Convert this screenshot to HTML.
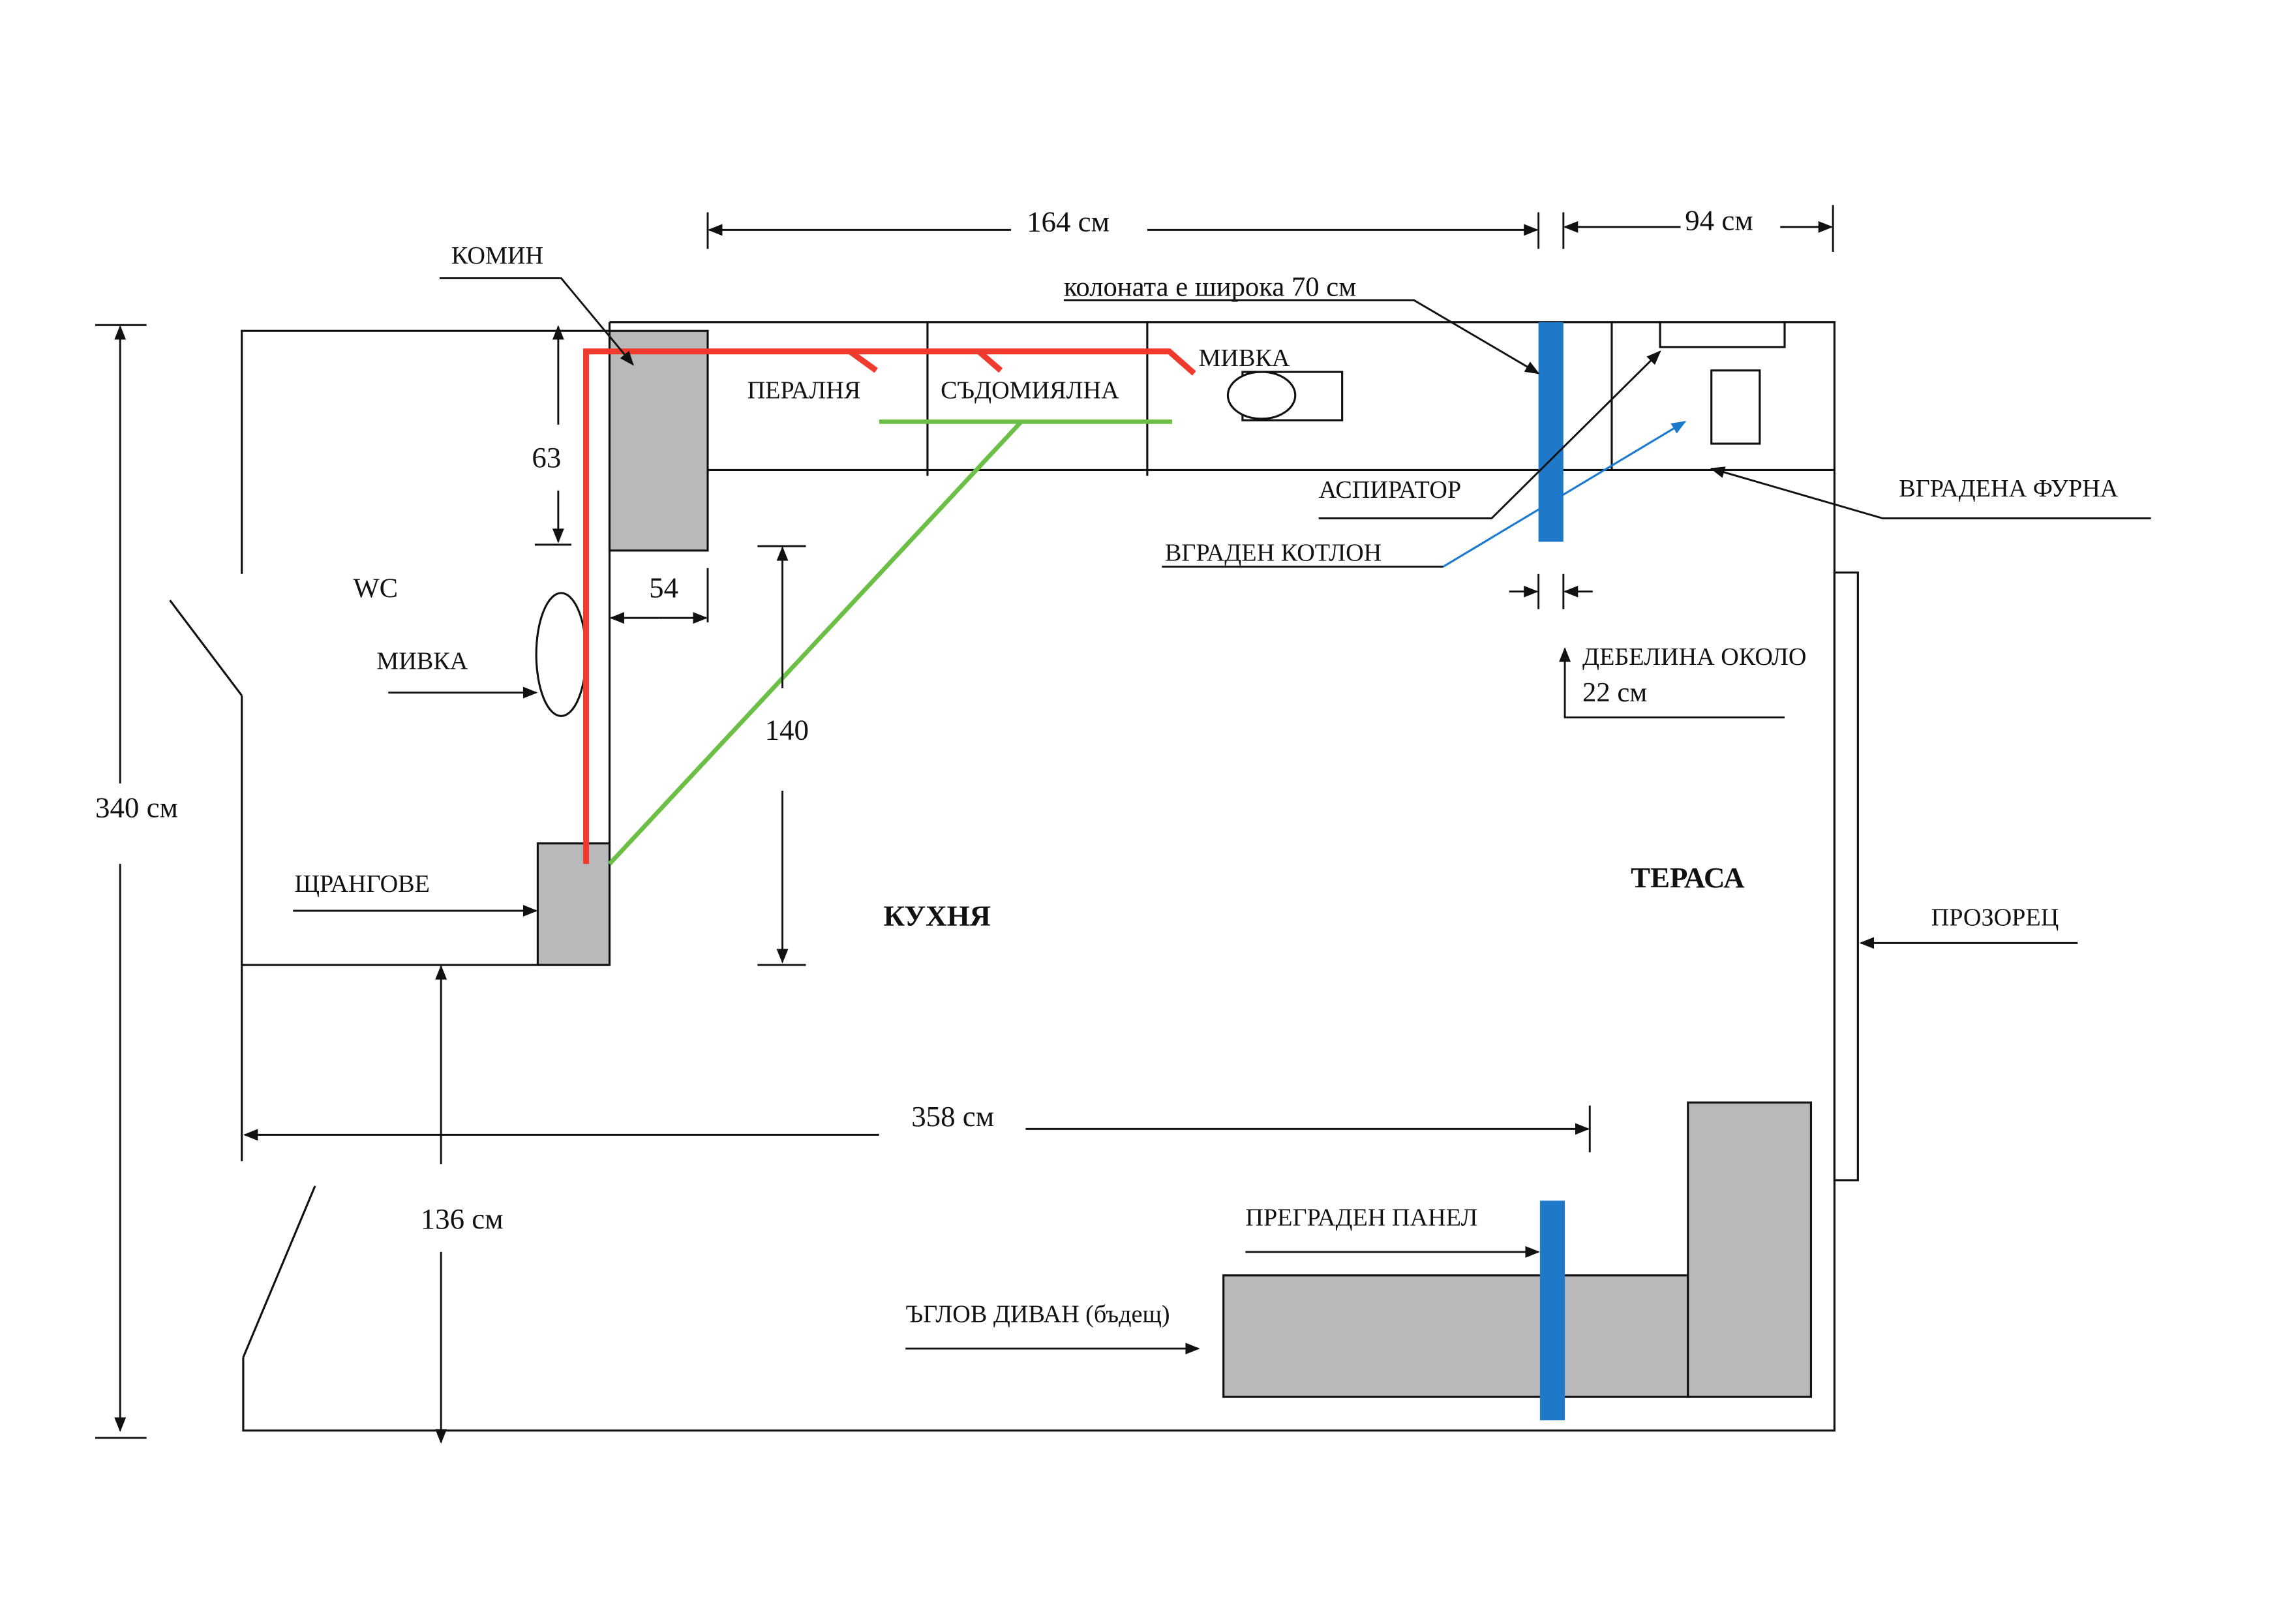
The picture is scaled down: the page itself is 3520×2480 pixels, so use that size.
<!DOCTYPE html>
<html><head><meta charset="utf-8"><style>
html,body{margin:0;padding:0;background:#fff;}
svg{display:block;}
text{font-family:"Liberation Serif",serif;fill:#111;}
</style></head><body>
<svg width="3520" height="2480" viewBox="0 0 1567 1105" preserveAspectRatio="none" xmlns="http://www.w3.org/2000/svg">
<defs>
<marker id="a" markerWidth="10" markerHeight="8" refX="9" refY="4" orient="auto" markerUnits="userSpaceOnUse"><path d="M0,0 L10,4 L0,8 Z" fill="#111"/></marker>
<marker id="b" markerWidth="10" markerHeight="8" refX="9" refY="4" orient="auto" markerUnits="userSpaceOnUse"><path d="M0,0 L10,4 L0,8 Z" fill="#1a7ad0"/></marker>
</defs>
<g stroke="#111" stroke-width="1.4" fill="none">
<polyline points="165,392 165,226 416,226"/>
<line x1="116" y1="410" x2="165" y2="475"/>
<line x1="165" y1="475" x2="165" y2="793"/>
<line x1="215" y1="810" x2="166" y2="927"/>
<polyline points="166,927 166,977 1252,977 1252,220 416,220"/>
<line x1="165" y1="659" x2="416" y2="659"/>
<line x1="416" y1="220" x2="416" y2="659"/>
<line x1="483" y1="321" x2="1252" y2="321"/>
<line x1="633" y1="220" x2="633" y2="325"/>
<line x1="783" y1="220" x2="783" y2="325"/>
<line x1="1100" y1="220" x2="1100" y2="321"/>
<polyline points="1133,220 1133,237 1218,237 1218,220"/>
<rect x="1168" y="253" width="33" height="50"/>
<rect x="848" y="254" width="68" height="33"/>
<ellipse cx="861" cy="270" rx="23" ry="16" fill="#fff"/>
<ellipse cx="383" cy="447" rx="17" ry="42"/>
<rect x="1252" y="391" width="16" height="415"/>
</g>
<rect x="416" y="226" width="67" height="150" fill="#b9b8bb" stroke="#111" stroke-width="1.4"/>
<rect x="367" y="576" width="49" height="83" fill="#b9b8bb" stroke="#111" stroke-width="1.4"/>
<rect x="835" y="871" width="317" height="83" fill="#b9b8bb" stroke="#111" stroke-width="1.4"/>
<rect x="1152" y="753" width="84" height="201" fill="#b9b8bb" stroke="#111" stroke-width="1.4"/>
<g stroke="#f03a2e" stroke-width="4" fill="none">
<polyline points="400,590 400,240 798,240 815,255"/>
<line x1="580" y1="240" x2="598" y2="253"/>
<line x1="668" y1="240" x2="683" y2="253"/>
</g>
<g stroke="#6cbf45" stroke-width="3" fill="none">
<line x1="600" y1="288" x2="800" y2="288"/>
<line x1="697" y1="288" x2="416" y2="590"/>
</g>
<rect x="1050" y="220" width="17" height="150" fill="#1f78c8"/>
<rect x="1051" y="820" width="17" height="150" fill="#1f78c8"/>
<line x1="985" y1="387" x2="1150" y2="288" stroke="#1a7ad0" stroke-width="1.4" marker-end="url(#b)"/>
<g stroke="#111" stroke-width="1.3" fill="none">
<line x1="483" y1="145" x2="483" y2="170"/><line x1="1050" y1="145" x2="1050" y2="170"/>
<line x1="1067" y1="145" x2="1067" y2="170"/><line x1="1251" y1="140" x2="1251" y2="172"/>
<line x1="690" y1="157" x2="484" y2="157" marker-end="url(#a)"/>
<line x1="783" y1="157" x2="1049" y2="157" marker-end="url(#a)"/>
<line x1="1147" y1="155" x2="1068" y2="155" marker-end="url(#a)"/>
<line x1="1215" y1="155" x2="1250" y2="155" marker-end="url(#a)"/>
<line x1="65" y1="222" x2="100" y2="222"/><line x1="65" y1="982" x2="100" y2="982"/>
<line x1="82" y1="535" x2="82" y2="223" marker-end="url(#a)"/>
<line x1="82" y1="590" x2="82" y2="977" marker-end="url(#a)"/>
<line x1="365" y1="372" x2="390" y2="372"/>
<line x1="381" y1="290" x2="381" y2="223" marker-end="url(#a)"/>
<line x1="381" y1="335" x2="381" y2="370" marker-end="url(#a)"/>
<line x1="483" y1="388" x2="483" y2="425"/>
<line x1="450" y1="422" x2="417" y2="422" marker-end="url(#a)"/>
<line x1="450" y1="422" x2="482" y2="422" marker-end="url(#a)"/>
<line x1="517" y1="373" x2="550" y2="373"/><line x1="517" y1="659" x2="550" y2="659"/>
<line x1="534" y1="470" x2="534" y2="374" marker-end="url(#a)"/>
<line x1="534" y1="540" x2="534" y2="657" marker-end="url(#a)"/>
<line x1="1085" y1="755" x2="1085" y2="787"/>
<line x1="600" y1="775" x2="167" y2="775" marker-end="url(#a)"/>
<line x1="700" y1="771" x2="1084" y2="771" marker-end="url(#a)"/>
<line x1="301" y1="795" x2="301" y2="660" marker-end="url(#a)"/>
<line x1="301" y1="855" x2="301" y2="985" marker-end="url(#a)"/>
<line x1="1030" y1="404" x2="1049" y2="404" marker-end="url(#a)"/>
<line x1="1087" y1="404" x2="1068" y2="404" marker-end="url(#a)"/>
<line x1="1067" y1="392" x2="1067" y2="416"/><line x1="1050" y1="392" x2="1050" y2="416"/>
<polyline points="1218,490 1068,490 1068,443" marker-end="url(#a)"/>
<polyline points="300,190 383,190 432,249" marker-end="url(#a)"/>
<line x1="265" y1="473" x2="366" y2="473" marker-end="url(#a)"/>
<line x1="200" y1="622" x2="366" y2="622" marker-end="url(#a)"/>
<polyline points="726,205 965,205 1050,255" marker-end="url(#a)"/>
<polyline points="900,354 1018,354 1133,240" marker-end="url(#a)"/>
<polyline points="793,387 985,387"/>
<polyline points="1468,354 1285,354 1168,320" marker-end="url(#a)"/>
<line x1="1418" y1="644" x2="1270" y2="644" marker-end="url(#a)"/>
<line x1="850" y1="855" x2="1050" y2="855" marker-end="url(#a)"/>
<line x1="618" y1="921" x2="818" y2="921" marker-end="url(#a)"/>
</g>
<g font-size="17">
<text x="308" y="180">КОМИН</text>
<text x="729" y="158" font-size="20" text-anchor="middle">164 см</text>
<text x="1150" y="157" font-size="20">94 см</text>
<text x="726" y="202" font-size="19">колоната е широка 70 см</text>
<text x="510" y="272">ПЕРАЛНЯ</text>
<text x="642" y="272">СЪДОМИЯЛНА</text>
<text x="818" y="250">МИВКА</text>
<text x="900" y="340">АСПИРАТОР</text>
<text x="1296" y="339">ВГРАДЕНА ФУРНА</text>
<text x="795" y="383">ВГРАДЕН КОТЛОН</text>
<text x="1080" y="454">ДЕБЕЛИНА ОКОЛО</text>
<text x="1080" y="479" font-size="19">22 см</text>
<text x="363" y="319" font-size="20">63</text>
<text x="443" y="408" font-size="20">54</text>
<text x="522" y="505" font-size="20">140</text>
<text x="241" y="408" font-size="19">WC</text>
<text x="257" y="457">МИВКА</text>
<text x="65" y="558" font-size="20">340 см</text>
<text x="201" y="609">ЩРАНГОВЕ</text>
<text x="603" y="632" font-size="20" font-weight="bold">КУХНЯ</text>
<text x="1113" y="606" font-size="20" font-weight="bold">ТЕРАСА</text>
<text x="1318" y="632">ПРОЗОРЕЦ</text>
<text x="622" y="769" font-size="20">358 см</text>
<text x="287" y="839" font-size="20">136 см</text>
<text x="850" y="837">ПРЕГРАДЕН ПАНЕЛ</text>
<text x="618" y="903">ЪГЛОВ ДИВАН (бъдещ)</text>
</g>
</svg>
</body></html>
